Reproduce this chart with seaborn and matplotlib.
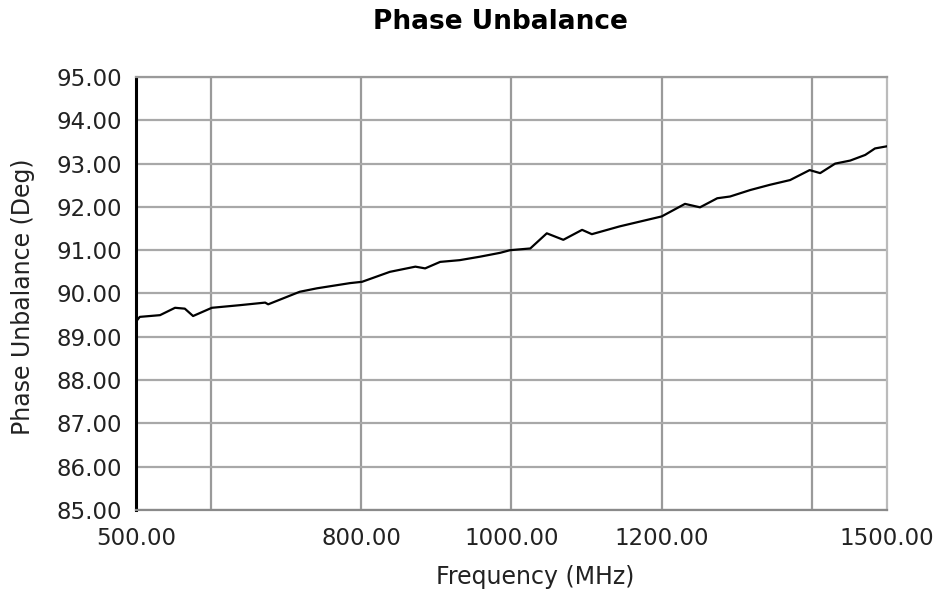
import numpy as np
import pandas as pd
import seaborn as sns
import matplotlib.pyplot as plt

# Values
freq_mhz = [500, 505, 532, 552, 565, 576, 601, 638, 672, 676, 718, 741, 785, 801,
            838, 872, 885, 905, 931, 958, 985, 998, 1025, 1047, 1069, 1094, 1107,
            1144, 1200, 1231, 1251, 1274, 1291, 1318, 1344, 1371, 1397, 1411, 1431,
            1451, 1471, 1484, 1500]
phase_deg = [89.35, 89.46, 89.50, 89.67, 89.65, 89.48, 89.67, 89.73, 89.79, 89.75,
             90.04, 90.12, 90.24, 90.27, 90.50, 90.62, 90.58, 90.73, 90.77, 90.85,
             90.94, 91.00, 91.04, 91.39, 91.24, 91.47, 91.37, 91.55, 91.78, 92.07,
             91.99, 92.20, 92.24, 92.39, 92.51, 92.62, 92.85, 92.78, 93.00, 93.07,
             93.20, 93.35, 93.40]

x_ticks = [500, 600, 800, 1000, 1200, 1400, 1500]
x_tick_labels = ['500.00', '', '800.00', '1000.00', '1200.00', '', '1500.00']
x_grid = [600, 800, 1000, 1200, 1400]
y_ticks = list(range(85, 96))

df = pd.DataFrame({'freq': freq_mhz, 'phase': phase_deg})

sns.set_style('white')
plt.rcParams['font.family'] = ['DejaVu Sans']

fig = plt.figure(figsize=(9.37, 5.9), dpi=100)
ax = fig.add_axes([136 / 937, 80 / 590, 751 / 937, 433 / 590])

for v in x_grid:
    ax.axvline(v, color='#9a9a9a', lw=1.6, zorder=1)
for v in y_ticks:
    ax.axhline(v, color='#a8a8a8', lw=1.6, zorder=1)

sns.lineplot(data=df, x='freq', y='phase', color='black', lw=1.6, ax=ax, zorder=3)

ax.set_xlim(500, 1500)
ax.set_ylim(85, 95)
ax.set_xticks(x_ticks)
ax.set_xticklabels(x_tick_labels)
ax.set_yticks(y_ticks)
ax.set_yticklabels([f'{v:.2f}' for v in y_ticks])
ax.tick_params(axis='both', labelsize=16.5, colors='#222222', direction='out')
ax.tick_params(axis='y', length=9, width=2, pad=1)
ax.tick_params(axis='x', length=7, width=2, pad=5)

ax.spines['left'].set_color('black')
ax.spines['left'].set_linewidth(2.2)
ax.spines['bottom'].set_color('#8a8a8a')
ax.spines['bottom'].set_linewidth(1.6)
ax.spines['top'].set_color('#9a9a9a')
ax.spines['top'].set_linewidth(1.6)
ax.spines['right'].set_color('#bbbbbb')
ax.spines['right'].set_linewidth(1.6)

ax.set_xlabel('')
ax.set_ylabel('')
fig.text(535 / 937, 1 - 577 / 590, 'Frequency (MHz)', ha='center', va='center',
         fontsize=17, color='#222222')
fig.text(23 / 937, 1 - 297 / 590, 'Phase Unbalance (Deg)', ha='center', va='center',
         rotation=90, fontsize=17, color='#222222')
fig.text(500 / 937, 1 - 22 / 590, 'Phase Unbalance', ha='center', va='center',
         fontsize=19, fontweight='bold', color='black')

fig.savefig('out.png', dpi=100)
